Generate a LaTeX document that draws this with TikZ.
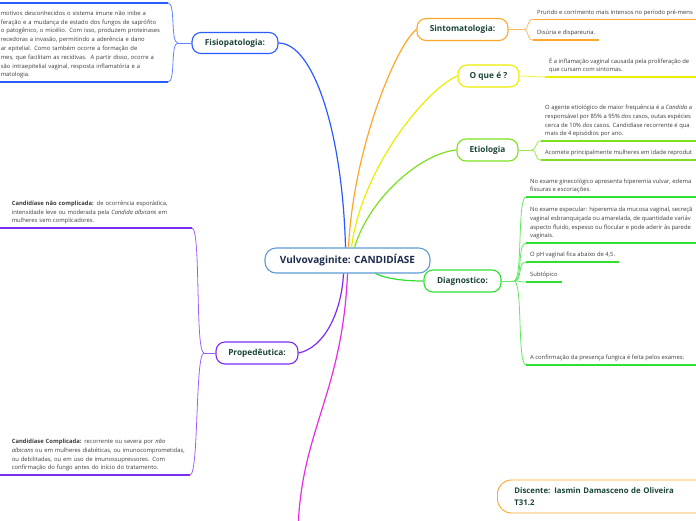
\documentclass[tikz,border=0pt]{standalone}
\usepackage{fontspec}
\setmainfont{Open Sans}
\definecolor{TopicInk}{HTML}{1B4536}
\definecolor{CoreInk}{HTML}{1C2B4C}
\definecolor{LeafInk}{HTML}{3A3A3A}
\definecolor{CoreBlue}{HTML}{5C9BD6}
\definecolor{Tangerine}{HTML}{FFA62B}
\definecolor{Lemon}{HTML}{EDED00}
\definecolor{Lime}{HTML}{7DE01E}
\definecolor{Grass}{HTML}{2FE02F}
\definecolor{Royal}{HTML}{2A5BFF}
\definecolor{Violet}{HTML}{7B2EF2}
\definecolor{Fuchsia}{HTML}{E52DE5}

\tikzset{
  topic/.style={draw=#1, line width=1.1pt, rounded corners=9pt, fill=white,
    text=TopicInk, font=\bfseries\fontsize{8.3}{10}\selectfont,
    minimum height=22pt, inner sep=0pt},
  leaf/.style={text=LeafInk, font=\fontsize{5.85}{8.8}\selectfont,
    align=left, inner xsep=4pt, inner ysep=3.5pt},
  branch/.style={draw=#1, line width=1.2pt},
  twig/.style={draw=#1!75, line width=0.8pt},
  uline/.style={draw=#1, line width=1.8pt},
}

\begin{document}
\begin{tikzpicture}[x=1pt, y=-1pt]
  \useasboundingbox (0,0) rectangle (696,520);
  \coordinate (leftedge) at (-4,0);
  \coordinate (rightedge) at (700,0);
  \coordinate (tail) at (298,530);

  % -------------------------------------------------------
  % Main topics
  % -------------------------------------------------------
  \node[topic=CoreBlue, text=CoreInk, font=\bfseries\fontsize{10}{12}\selectfont,
    minimum width=165pt, minimum height=25pt, rounded corners=11pt]
    (core) at (347.5,260.5) {Vulvovaginite: CANDIDÍASE};

  \node[topic=Tangerine, minimum width=91pt] (sint) at (462.5,29.5) {Sintomatologia:};
  \node[topic=Lemon, minimum width=61pt] (oque) at (488.5,76) {O que é ?};
  \node[topic=Lime, minimum width=61pt] (etio) at (487.5,150) {Etiologia};
  \node[topic=Grass, minimum width=77pt] (diag) at (462.5,281) {Diagnostico:};
  \node[topic=Royal, minimum width=86pt, minimum height=21pt] (fisio) at (235,43) {Fisiopatologia:};
  \node[topic=Violet, minimum width=82pt] (prop) at (257,353) {Propedêutica:};

  % floating note (no connector)
  \node[topic=Tangerine, line width=0.9pt, rounded corners=14pt, anchor=west,
    align=left, text width=240pt, inner xsep=17pt, minimum height=33pt,
    font=\bfseries\fontsize{7.8}{11.5}\selectfont]
    (aluna) at (497,496.5) {Discente: Iasmin Damasceno de Oliveira\\T31.2};

  % -------------------------------------------------------
  % Branches out of the central topic
  % -------------------------------------------------------
  \draw[branch=Royal] ([xshift=-2pt]core.north) .. controls +(-3,-115) and +(35,0) .. (fisio.east);
  \draw[branch=Tangerine] ([xshift=1pt]core.north) .. controls +(5,-100) and +(-20,15) .. (sint.west);
  \draw[branch=Lemon] ([xshift=4pt]core.north) .. controls +(10,-80) and +(-30,12) .. (oque.west);
  \draw[branch=Lime] ([xshift=7pt]core.north) .. controls +(15,-50) and +(-35,3) .. (etio.west);
  \draw[branch=Grass] ([xshift=28pt]core.south) .. controls +(12,6) and +(-15,0) .. (diag.west);
  \draw[branch=Violet] ([xshift=-4pt]core.south) .. controls +(-2,40) and +(25,-5) .. (prop.east);
  \draw[branch=Fuchsia] (core.south) .. controls +(-5,120) and +(3,-100) .. (tail);

  % -------------------------------------------------------
  % Sintomatologia
  % -------------------------------------------------------
  \coordinate (sintfork) at (523,29.5);
  \node[leaf, anchor=south west] (sint1) at (533,19.5)
    {Prurido e corrimento mais intensos no período pré-mens};
  \node[leaf, anchor=south west] (sint2) at (533,40) {Disúria e dispareuria.};
  \draw[twig=Tangerine] (sint.east) -- (sintfork);
  \draw[twig=Tangerine] (sintfork) .. controls +(7,0) and +(-7,0) .. (sint1.south west);
  \draw[twig=Tangerine] (sintfork) .. controls +(7,0) and +(-7,0) .. (sint2.south west);
  \draw[uline=Tangerine] (sint1.south west) -- (sint1.south west -| rightedge);
  \draw[uline=Tangerine] (sint2.south west) -- (sint2.south east);

  % -------------------------------------------------------
  % O que é ?
  % -------------------------------------------------------
  \node[leaf, anchor=south west] (oque1) at (545,77)
    {É a inflamação vaginal causada pela proliferação de\\que cursam com sintomas.};
  \draw[twig=Lemon] (oque.east) -- (oque1.south west);
  \draw[uline=Lemon] (oque1.south west) -- (oque1.south west -| rightedge);

  % -------------------------------------------------------
  % Etiologia
  % -------------------------------------------------------
  \coordinate (etiofork) at (531,150);
  \node[leaf, anchor=south west] (etio1) at (541,141)
    {O agente etiológico de maior frequência é a \textit{Candida} a\\
     responsável por 85\% a 95\% dos casos, outas espécies\\
     cerca de 10\% dos casos. Candidíase recorrente é qua\\
     mais de 4 episódios por ano.};
  \node[leaf, anchor=south west] (etio2) at (541,160)
    {Acomete principalmente mulheres em idade reprodut};
  \draw[twig=Lime] (etio.east) -- (etiofork);
  \draw[twig=Lime] (etiofork) .. controls +(7,0) and +(-7,0) .. (etio1.south west);
  \draw[twig=Lime] (etiofork) .. controls +(7,0) and +(-7,0) .. (etio2.south west);
  \draw[uline=Lime] (etio1.south west) -- (etio1.south west -| rightedge);
  \draw[uline=Lime] (etio2.south west) -- (etio2.south west -| rightedge);

  % -------------------------------------------------------
  % Diagnostico
  % -------------------------------------------------------
  \coordinate (diagfork) at (514,281);
  \node[leaf, anchor=south west] (diag1) at (526,197)
    {No exame ginecológico apresenta hiperemia vulvar, edema\\fissuras e escoriações.};
  \node[leaf, anchor=south west] (diag2) at (526,243)
    {No exame especular: hiperemia da mucosa vaginal, secreçã\\
     vaginal esbranquiçada ou amarelada, de quantidade variáv\\
     aspecto fluido, espesso ou flocular e pode aderir às parede\\
     vaginais.};
  \node[leaf, anchor=south west] (diag3) at (526,262) {O pH vaginal fica abaixo de 4,5.};
  \node[leaf, anchor=south west] (diag4) at (526,282) {Subtópico};
  \node[leaf, anchor=south west] (diag5) at (526,365)
    {A confirmação da presença fungica é feita pelos exames:};
  \draw[twig=Grass] (diag.east) -- (diagfork);
  \foreach \leafname in {diag1,diag2,diag3,diag4,diag5}
    \draw[twig=Grass] (diagfork) .. controls +(9,0) and +(-9,0) .. (\leafname.south west);
  \draw[uline=Grass] (diag1.south west) -- (diag1.south west -| rightedge);
  \draw[uline=Grass] (diag2.south west) -- (diag2.south west -| rightedge);
  \draw[uline=Grass] (diag3.south west) -- (diag3.south east);
  \draw[uline=Grass] (diag4.south west) -- (diag4.south east);
  \draw[uline=Grass] (diag5.south west) -- (diag5.south west -| rightedge);

  % -------------------------------------------------------
  % Fisiopatologia (left)
  % -------------------------------------------------------
  \coordinate (fisiofork) at (178,43);
  \coordinate (fisio0) at (168,3);
  \node[leaf, anchor=south east, text width=163pt] (fisio1) at (168,82)
    {motivos desconhecidos o sistema imune não inibe a\\
     feração e a mudança de estado dos fungos de saprófito\\
     o patogênico, o micélio. Com isso, produzem proteinases\\
     recedoras a invasão, permitindo a aderência e dano\\
     ar epitelial. Como também ocorre a formação de\\
     mes, que facilitam as recidivas.\ \ A partir disso, ocorre a\\
     são intraepitelial vaginal, resposta inflamatória e a\\
     matologia.};
  \draw[twig=Royal] (fisio.west) -- (fisiofork);
  \draw[twig=Royal] (fisiofork) .. controls +(-8,0) and +(8,0) .. (fisio0);
  \draw[twig=Royal] (fisiofork) .. controls +(-8,0) and +(8,0) .. (fisio1.south east);
  \draw[uline=Royal] (fisio0) -- (fisio0 -| leftedge);
  \draw[uline=Royal] (fisio1.south east) -- (fisio1.south east -| leftedge);

  % -------------------------------------------------------
  % Propedêutica (left)
  % -------------------------------------------------------
  \coordinate (propfork) at (204,353);
  \node[leaf, anchor=south east, text width=176pt] (prop1) at (192,228)
    {\textbf{Candidíase não complicada:} de ocorrência esporádica,\\
     intensidade leve ou moderada pela \textit{Candida albicans} em\\
     mulheres sem complicadores.};
  \node[leaf, anchor=south east, text width=174pt] (prop2) at (190,475)
    {\textbf{Candidíase Complicada:} recorrente ou severa por \textit{não}\\
     \textit{albicans} ou em mulheres diabéticas, ou imunocomprometidas,\\
     ou debilitadas, ou em uso de imunossupressores. Com\\
     confirmação do fungo antes do início do tratamento.};
  \draw[twig=Violet] (prop.west) -- (propfork);
  \draw[twig=Violet] (propfork) .. controls +(-9,0) and +(9,0) .. (prop1.south east);
  \draw[twig=Violet] (propfork) .. controls +(-9,0) and +(9,0) .. (prop2.south east);
  \draw[uline=Violet] (prop1.south east) -- (prop1.south east -| leftedge);
  \draw[uline=Violet] (prop2.south east) -- (prop2.south east -| leftedge);

\end{tikzpicture}
\end{document}
